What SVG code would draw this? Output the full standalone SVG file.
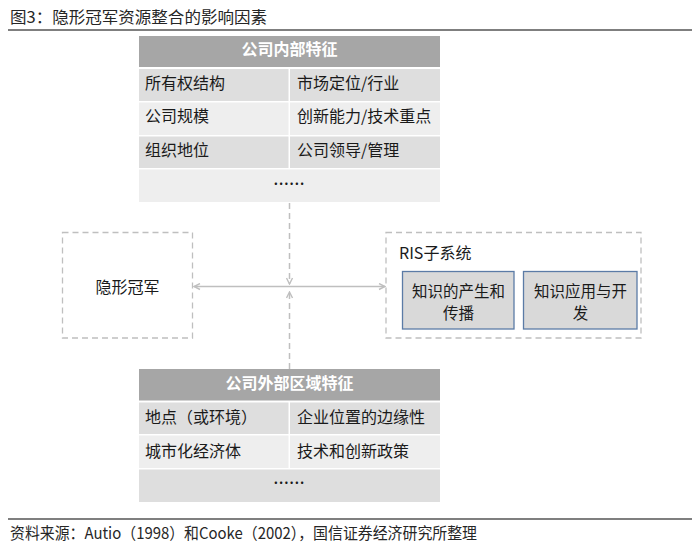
<svg xmlns="http://www.w3.org/2000/svg" width="700" height="548" viewBox="0 0 700 548">
<style>
text{font-family:"Noto Sans CJK SC","Noto Sans",sans-serif;fill:#1a1a1a;font-size:16px}
.hdr{fill:#a6a6a6}
.dk{fill:#dedede}
.lt{fill:#eeeeee}
.ht{fill:#ffffff;font-weight:bold;text-anchor:middle}
.mid{text-anchor:middle}
.bt{text-anchor:middle;font-size:15.5px}
.dots{font-weight:bold;text-anchor:middle;font-size:13px;letter-spacing:1px}
.dbox{fill:none;stroke:#bfbfbf;stroke-width:1.3;stroke-dasharray:6 4}
.sbox{fill:#d9d9d9;stroke:#5b7ba6;stroke-width:1.3}
.rule{stroke:#7f7f7f;stroke-width:2}
.conn{stroke:#bfbfbf;stroke-width:1.5;fill:none}
.dash{stroke-dasharray:6 4}
</style>
<defs>
<marker id="arr" viewBox="0 0 8 8" refX="7" refY="4" markerWidth="8" markerHeight="8" markerUnits="userSpaceOnUse" orient="auto-start-reverse">
<path d="M1,1 L7,4 L1,7" fill="none" stroke="#bfbfbf" stroke-width="1.4"/>
</marker>
</defs>
<g id="title">
<text x="10" y="23" font-size="16.5" textLength="257" lengthAdjust="spacingAndGlyphs" style="fill:#262626">图3：隐形冠军资源整合的影响因素</text>
<line class="rule" x1="8" y1="30" x2="692" y2="30"/>
</g>
<g id="internal">
<rect class="hdr" x="139" y="36" width="301" height="31"/>
<text class="ht" x="289.5" y="55">公司内部特征</text>
<rect class="dk" x="139" y="69" width="149.5" height="32"/>
<rect class="dk" x="290" y="69" width="150" height="32"/>
<rect class="lt" x="139" y="102.5" width="149.5" height="32.5"/>
<rect class="lt" x="290" y="102.5" width="150" height="32.5"/>
<rect class="dk" x="139" y="136.5" width="149.5" height="31.5"/>
<rect class="dk" x="290" y="136.5" width="150" height="31.5"/>
<rect class="lt" x="139" y="169.5" width="301" height="32.5"/>
<text x="145" y="88.5">所有权结构</text>
<text x="297" y="88.5">市场定位/行业</text>
<text x="145" y="122">公司规模</text>
<text x="297" y="122">创新能力/技术重点</text>
<text x="145" y="155.5">组织地位</text>
<text x="297" y="155.5">公司领导/管理</text>
<text class="dots" x="289.5" y="185">......</text>
</g>
<g id="champion">
<rect class="dbox" x="62.5" y="232.5" width="130" height="105.5"/>
<text class="mid" x="127.5" y="293">隐形冠军</text>
</g>
<g id="ris">
<rect class="dbox" x="386" y="232.5" width="255" height="105.5"/>
<text x="399" y="259">RIS子系统</text>
<g id="ris-knowledge-creation">
<rect class="sbox" x="402.5" y="271.5" width="111.5" height="57.5"/>
<text class="bt" x="458.5" y="296.5">知识的产生和</text>
<text class="bt" x="458.5" y="319">传播</text>
</g>
<g id="ris-knowledge-application">
<rect class="sbox" x="523.5" y="271.5" width="113.5" height="57.5"/>
<text class="bt" x="580.5" y="296.5">知识应用与开</text>
<text class="bt" x="580.5" y="319">发</text>
</g>
</g>
<g id="external">
<rect class="hdr" x="139" y="369" width="301" height="31.5"/>
<text class="ht" x="289.5" y="389">公司外部区域特征</text>
<rect class="dk" x="139" y="402.5" width="149.5" height="31.5"/>
<rect class="dk" x="290" y="402.5" width="150" height="31.5"/>
<rect class="lt" x="139" y="435.5" width="149.5" height="32.5"/>
<rect class="lt" x="290" y="435.5" width="150" height="32.5"/>
<rect class="dk" x="139" y="469.5" width="301" height="32.5"/>
<text x="145" y="423">地点（或环境）</text>
<text x="297" y="423">企业位置的边缘性</text>
<text x="145" y="456.5">城市化经济体</text>
<text x="297" y="456.5">技术和创新政策</text>
<text class="dots" x="289.5" y="484">......</text>
</g>
<g id="connectors">
<line class="conn" x1="194" y1="286.5" x2="385" y2="286.5" marker-start="url(#arr)" marker-end="url(#arr)"/>
<line class="conn dash" x1="289.5" y1="203" x2="289.5" y2="284" marker-end="url(#arr)"/>
<line class="conn dash" x1="289.5" y1="369" x2="289.5" y2="292" marker-end="url(#arr)"/>
</g>
<g id="footer">
<line class="rule" x1="8" y1="519" x2="692" y2="519"/>
<text x="10" y="539" font-size="15" textLength="467" lengthAdjust="spacingAndGlyphs" style="fill:#262626">资料来源：Autio（1998）和Cooke（2002），国信证券经济研究所整理</text>
</g>
</svg>
